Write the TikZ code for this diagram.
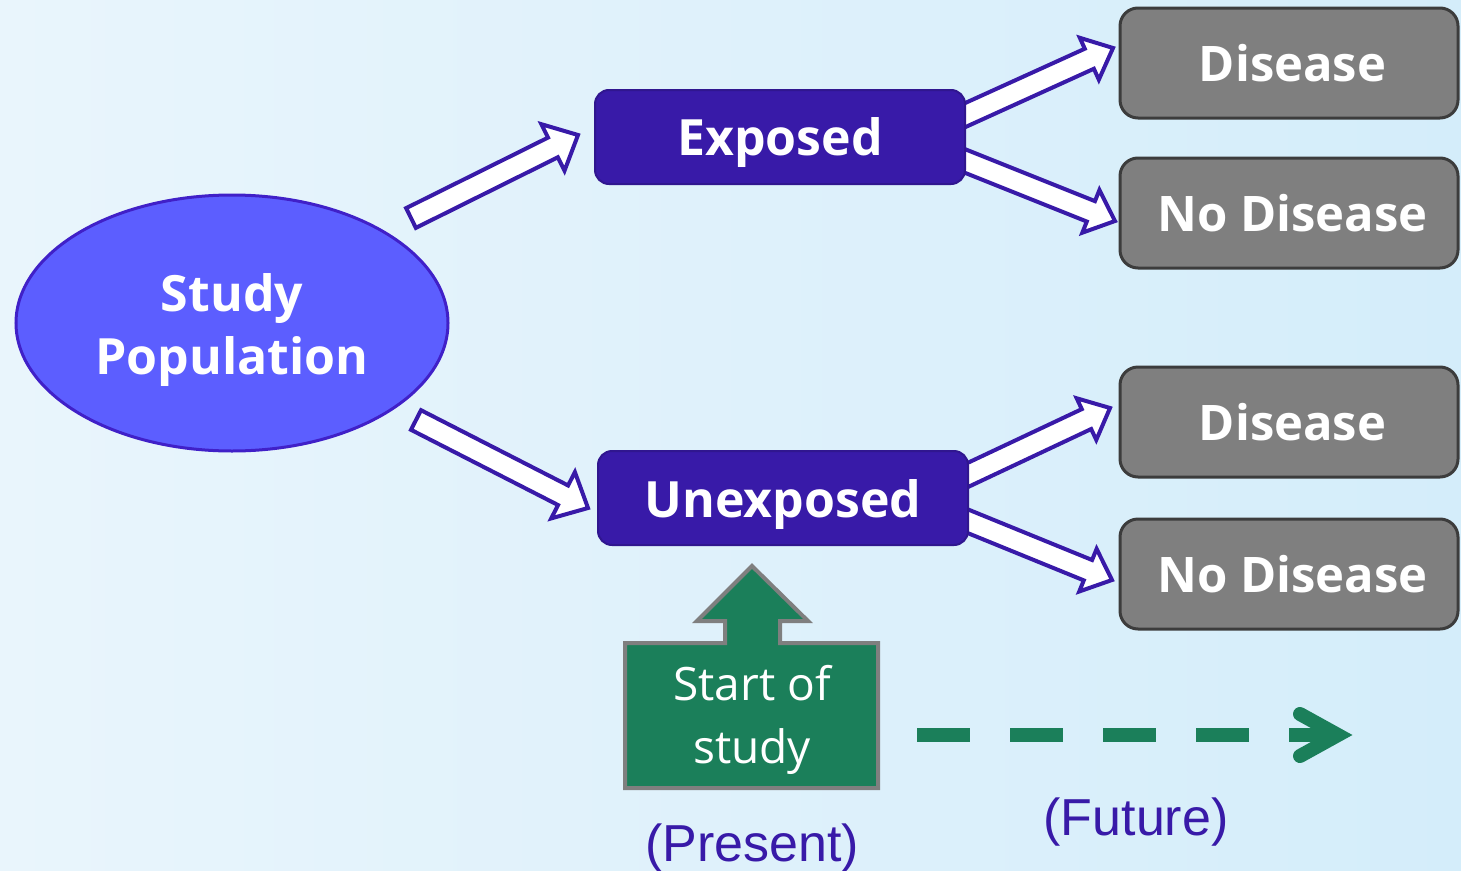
\documentclass[tikz,border=0pt]{standalone}
\usepackage{fontspec}
\setmainfont{Open Sans}
\newfontfamily\arialf{Liberation Sans}
\usetikzlibrary{calc,shapes.geometric}
\definecolor{bgl}{RGB}{233,245,252}
\definecolor{bgr}{RGB}{212,237,250}
\definecolor{indig}{RGB}{56,26,168}
\definecolor{popfill}{RGB}{92,94,255}
\definecolor{popline}{RGB}{64,32,200}
\definecolor{grayfill}{RGB}{127,127,127}
\definecolor{grayline}{RGB}{60,60,60}
\definecolor{grn}{RGB}{27,127,90}
\definecolor{grnline}{RGB}{127,127,127}
\tikzset{
  blockarrow/.style={draw=indig, fill=white, line width=4pt, line join=miter},
  expbox/.style={draw=indig!85!black, fill=indig, line width=2pt, rounded corners=14pt,
    minimum width=370pt, minimum height=94pt, inner sep=0pt, text=white, text depth=0pt,
    font=\fontsize{50}{60}\selectfont\bfseries},
  disbox/.style={draw=grayline, fill=grayfill, line width=3pt, rounded corners=18pt,
    minimum width=338pt, minimum height=110pt, inner sep=0pt, text=white,
    font=\fontsize{49}{60}\selectfont\bfseries},
  popnode/.style={ellipse, draw=popline, fill=popfill, line width=3pt,
    minimum width=432pt, minimum height=256pt, inner sep=0pt},
  poptext/.style={text=white, align=center, inner sep=0pt,
    font=\fontsize{50}{63}\selectfont\bfseries},
  timelbl/.style={text=indig, font=\arialf\fontsize{52}{60}\selectfont, inner sep=0pt},
  greenshape/.style={draw=grnline, fill=grn, line width=4pt, line join=miter},
  dashline/.style={draw=grn, line width=14pt, dash pattern=on 53pt off 40pt},
  chevron/.style={draw=grn, line width=14pt, line cap=round, line join=miter}
}
\newcommand\blkarrow[5]{%
  \coordinate (bh) at ($(#2)!#5!(#1)$);
  \draw[blockarrow] ($(#1)!#3!90:(#2)$) -- ($(bh)!#3!-90:(#1)$) -- ($(bh)!#4!-90:(#1)$)
    -- (#2) -- ($(bh)!#4!90:(#1)$) -- ($(bh)!#3!90:(#1)$) -- ($(#1)!#3!-90:(#2)$) -- cycle;}
\begin{document}
\begin{tikzpicture}[x=1pt,y=-1pt]
\useasboundingbox (0,0) rectangle (1461,870);
\clip (0,0) rectangle (1461,870);
\shade[left color=bgl, right color=bgr] (0,0) rectangle (1461,870);

% coordinates for block arrows
\coordinate (a1s) at (411,218);
\coordinate (a1e) at (578,135);
\coordinate (a2s) at (416,420);
\coordinate (a2e) at (588,508);
\coordinate (b1s) at (950,122);
\coordinate (b1e) at (1113,48);
\coordinate (b2s) at (950,155);
\coordinate (b2e) at (1115,221);
\coordinate (b3s) at (955,481);
\coordinate (b3e) at (1110,408);
\coordinate (b4s) at (955,516);
\coordinate (b4e) at (1112,580);

\blkarrow{a1s}{a1e}{11pt}{26pt}{28pt}
\blkarrow{a2s}{a2e}{11pt}{26pt}{28pt}
\blkarrow{b1s}{b1e}{11pt}{23pt}{26pt}
\blkarrow{b2s}{b2e}{11pt}{23pt}{26pt}
\blkarrow{b3s}{b3e}{11pt}{23pt}{26pt}
\blkarrow{b4s}{b4e}{11pt}{23pt}{26pt}

% nodes
\node[popnode] (pop) at (232,323) {};
\node[poptext] (poptxt) at (232,330) {Study\\Population};
\node[expbox] (exp) at (780,137) {Exposed};
\node[expbox] (unexp) at (783,498) {Unexposed};
\node[disbox] (d1) at (1289,63) {\hspace{7pt}Disease};
\node[disbox] (n1) at (1289,213) {\hspace{7pt}No Disease};
\node[disbox] (d2) at (1289,422) {\hspace{7pt}Disease};
\node[disbox] (n2) at (1289,574) {\hspace{7pt}No Disease};

% start of study
\draw[greenshape] (625,643) -- (725,643) -- (725,621) -- (697,621) -- (752,566)
  -- (808,621) -- (780,621) -- (780,643) -- (878,643) -- (878,788) -- (625,788) -- cycle;
\node[text=white, align=center, inner sep=0pt, font=\fontsize{46}{63}\selectfont] (start) at (752,720) {Start of\\study};

% timeline
\coordinate (fs) at (917,735);
\coordinate (fe) at (1338,735);
\draw[dashline] (fs) -- (fe);
\draw[chevron] (1300,714) -- (fe) -- (1300,756);

\node[timelbl] (present) at (752,848) {(Present)};
\node[timelbl] (future) at (1136,822) {(Future)};
\end{tikzpicture}
\end{document}
